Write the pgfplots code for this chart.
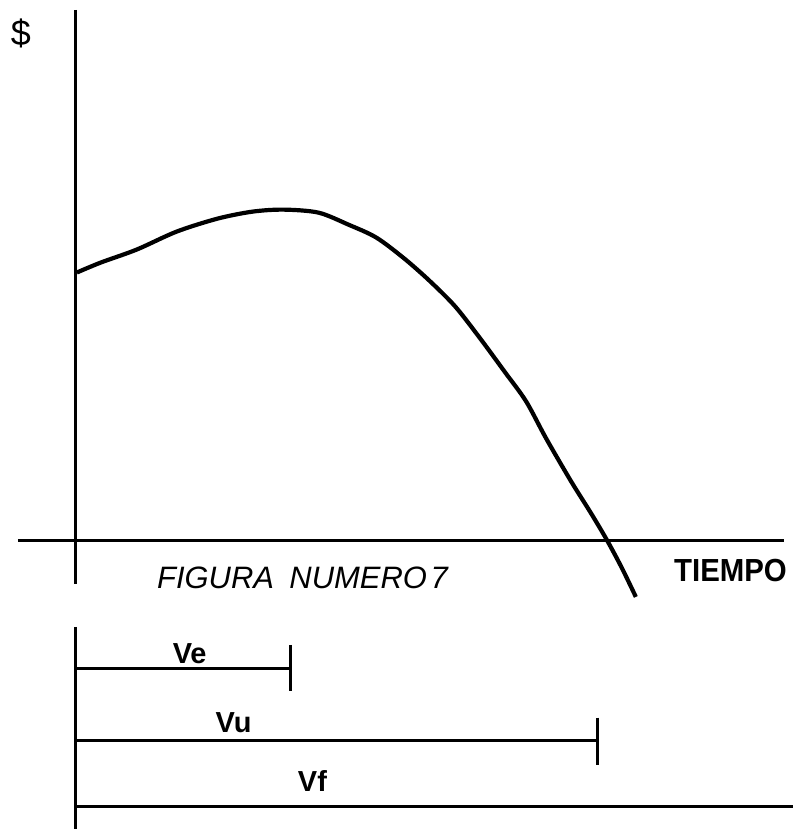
\documentclass[border=0pt]{standalone}
\usepackage{pgfplots}
\pgfplotsset{compat=1.18}
\usepackage{graphicx}
\usepackage{fontspec}
\setmainfont{Liberation Sans}
\begin{document}
\begin{tikzpicture}
\begin{axis}[
  hide axis, scale only axis, clip=false,
  width=397pt, height=415pt,
  xmin=0, xmax=794, ymin=0, ymax=830, y dir=reverse,
]
% invisible frame for bounding box
\addplot[draw=none] coordinates {(0,0) (794,830)};
% axes
\addplot[black, line width=1.6pt] coordinates {(76,10) (76,585)};
\addplot[black, line width=1.5pt] coordinates {(18,541) (785,541)};
% curve
\addplot[black, line width=2.1pt, smooth, tension=0.5] coordinates {
 (77,273) (101,263) (137,250) (177,232) (218,219) (253,212) (284,210)
 (319,213) (349,225) (377,238) (405,259) (430,281) (456,307) (481,339)
 (506,373) (527,402) (547,439) (572,482) (592,514) (608,541) (623,569) (637,598)};
% interval diagram
\addplot[black, line width=1.5pt] coordinates {(76,628) (76,830)};
\addplot[black, line width=1.5pt] coordinates {(76,670) (291,670)};
\addplot[black, line width=1.5pt] coordinates {(291,646) (291,692)};
\addplot[black, line width=1.5pt] coordinates {(76,742) (599,742)};
\addplot[black, line width=1.5pt] coordinates {(599,719) (599,766)};
\addplot[black, line width=1.5pt] coordinates {(76,808) (794,808)};
% labels
\node[font=\fontsize{18}{20}\selectfont] at (axis cs:21,34) {\$};
\node[anchor=west, inner sep=0pt, font=\fontsize{16}{18}\selectfont\bfseries] at (axis cs:675,572) {\scalebox{0.92}[1]{TIEMPO}};
\node[anchor=west, inner sep=0pt, font=\fontsize{15.5}{17}\selectfont\itshape] at (axis cs:157,579) {FIGURA\enspace NUMERO\kern0.12em 7};
\node[font=\fontsize{14.5}{16}\selectfont\bfseries] at (axis cs:190,655) {Ve};
\node[font=\fontsize{14.5}{16}\selectfont\bfseries] at (axis cs:234,724) {Vu};
\node[font=\fontsize{14.5}{16}\selectfont\bfseries] at (axis cs:313,782) {Vf};
\end{axis}
\end{tikzpicture}
\end{document}
